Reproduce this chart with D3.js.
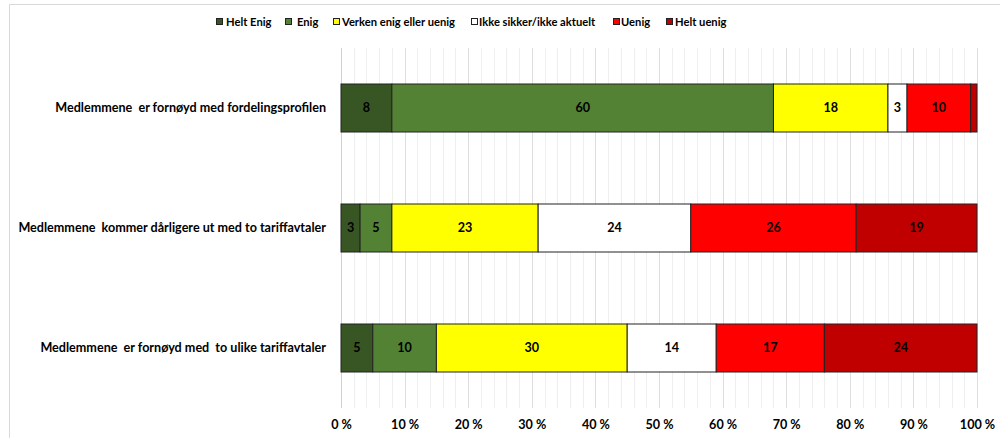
<!DOCTYPE html>
<html>
<head>
<meta charset="utf-8">
<script src="https://cdn.jsdelivr.net/npm/d3@7"></script>
<style>
  html, body { margin: 0; padding: 0; background: #fff; }
  svg text { font-family: Lato, "Open Sans", sans-serif; font-weight: bold; white-space: pre; }
</style>
</head>
<body>
<svg id="chart" width="1000" height="438"></svg>
<script>
// Survey statements (top to bottom)
const statements = [
  "Medlemmene  er fornøyd med fordelingsprofilen",
  "Medlemmene  kommer dårligere ut med to tariffavtaler",
  "Medlemmene  er fornøyd med  to ulike tariffavtaler"
];
// Answer categories, in stacking order
const answers = ["Helt Enig", "Enig", "Verken enig eller uenig", "Ikke sikker/ikke aktuelt", "Uenig", "Helt uenig"];
const answerColors = ["#375623", "#548235", "#FFFF00", "#FFFFFF", "#FF0000", "#C00000"];
// Percent share per answer, one value per statement
const heltEnig = [8, 3, 5];
const enig     = [60, 5, 10];
const verken   = [18, 23, 30];
const ikkeSikker = [3, 24, 14];
const uenig    = [10, 26, 17];
const heltUenig = [1, 19, 24];
const xTicks = [0, 10, 20, 30, 40, 50, 60, 70, 80, 90, 100];

const FS = 12.6;
const FS_LEGEND = 11.2;
const series = [heltEnig, enig, verken, ikkeSikker, uenig, heltUenig];
const rows = statements.map((s, i) => {
  const r = { statement: s };
  answers.forEach((a, j) => r[a] = series[j][i]);
  return r;
});

const svg = d3.select("#chart");

// outer frame
svg.append("path")
  .attr("d", "M9.5,438 V4.5 H1000")
  .attr("fill", "none").attr("stroke", "#d9d9d9").attr("stroke-width", 1);

const plot = { left: 341, right: 977, top: 48, bottom: 408 };
const x = d3.scaleLinear().domain([0, 100]).range([plot.left, plot.right]);
const y = d3.scaleBand().domain(statements).range([plot.top, plot.bottom]).paddingInner(0.6).paddingOuter(0.3);

// minor gridlines every 2 %, major every 10 %
const minor = d3.range(2, 101, 2).filter(v => v % 10 !== 0);
svg.append("g").selectAll("line").data(minor).join("line")
  .attr("x1", d => Math.round(x(d)) + 0.5).attr("x2", d => Math.round(x(d)) + 0.5)
  .attr("y1", plot.top).attr("y2", plot.bottom)
  .attr("stroke", "#efefef").attr("stroke-width", 1);
svg.append("g").selectAll("line").data(xTicks).join("line")
  .attr("x1", d => Math.round(x(d)) + 0.5).attr("x2", d => Math.round(x(d)) + 0.5)
  .attr("y1", plot.top).attr("y2", plot.bottom)
  .attr("stroke", d => d === 0 ? "#d0d0d0" : "#dedede").attr("stroke-width", 1);

// x axis labels
const xAxis = d3.axisBottom(x).tickValues(xTicks).tickFormat(d => d + " %").tickSize(0).tickPadding(0);
const gx = svg.append("g").attr("transform", `translate(0,${plot.bottom + 12})`).call(xAxis);
gx.select(".domain").remove();
gx.selectAll("text").attr("font-size", FS).attr("fill", "#000")
  .style("font-family", "Lato, sans-serif").style("font-weight", "bold");

// stacked bars
const stack = d3.stack().keys(answers)(rows);
const layers = svg.append("g").selectAll("g").data(stack).join("g")
  .attr("fill", (d, i) => answerColors[i]);
layers.selectAll("rect").data(d => d.map(v => ({ v, key: d.key }))).join("rect")
  .attr("x", d => x(d.v[0]))
  .attr("y", d => y(d.v.data.statement))
  .attr("width", d => x(d.v[1]) - x(d.v[0]))
  .attr("height", y.bandwidth())
  .attr("stroke", "#222").attr("stroke-width", 1);

// value labels
layers.selectAll("text").data(d => d.map(v => ({ v, key: d.key }))).join("text")
  .filter(d => d.v[1] - d.v[0] >= 2)
  .attr("x", d => (x(d.v[0]) + x(d.v[1])) / 2)
  .attr("y", d => y(d.v.data.statement) + y.bandwidth() / 2)
  .attr("dy", "0.35em")
  .attr("text-anchor", "middle")
  .attr("font-size", FS).attr("fill", "#000")
  .text(d => d.v[1] - d.v[0]);

// statement labels
svg.append("g").selectAll("text").data(statements).join("text")
  .attr("x", 326)
  .attr("y", d => y(d) + y.bandwidth() / 2)
  .attr("dy", "0.35em")
  .attr("text-anchor", "end")
  .attr("font-size", FS).attr("fill", "#000")
  .text(d => d);

// legend
const legendX = [216, 285, 333, 471, 613, 666];
const legendGap = [10, 12, 9, 8, 8, 9];
const legend = svg.append("g").selectAll("g").data(answers).join("g")
  .attr("transform", (d, i) => `translate(${legendX[i]},18)`);
legend.append("rect")
  .attr("x", 0.5).attr("y", 0.5).attr("width", 6).attr("height", 6)
  .attr("fill", (d, i) => answerColors[i]).attr("stroke", "#222").attr("stroke-width", 1);
legend.append("text")
  .attr("x", (d, i) => legendGap[i]).attr("y", 4).attr("dy", "0.35em")
  .attr("font-size", FS_LEGEND).attr("fill", "#000")
  .text(d => d);
</script>
</body>
</html>
